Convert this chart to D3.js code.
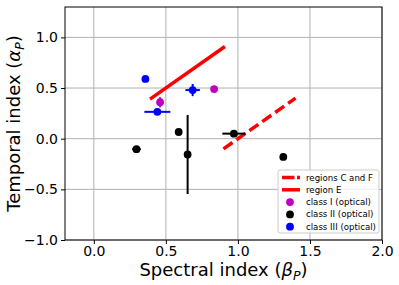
<!DOCTYPE html>
<html><head><meta charset="utf-8">
<script src="https://cdn.jsdelivr.net/npm/d3@7"></script>
<style>body{margin:0;background:#fff;}svg{display:block;font-family:"DejaVu Sans",sans-serif;}</style>
</head><body>
<script>
// Data
const xTicks = [0.0, 0.5, 1.0, 1.5, 2.0];
const yTicks = [-1.0, -0.5, 0.0, 0.5, 1.0];
const xDomain = [-0.2, 2.0];
const yDomain = [-1.0, 1.3];

// class I (optical): [beta, alpha, xerr, yerr]
const classI = [[0.46, 0.36, 0, 0.05], [0.835, 0.49, 0, 0]];
// class II (optical)
const classII = [[0.296, -0.103, 0.03, 0], [0.589, 0.066, 0, 0], [0.651, -0.156, 0, 0.39], [0.972, 0.05, 0.08, 0], [1.315, -0.18, 0, 0]];
// class III (optical)
const classIII = [[0.358, 0.59, 0, 0], [0.686, 0.48, 0.05, 0.06], [0.441, 0.265, 0.09, 0]];
// region lines
const regionE = [[0.4, 0.4], [0.9, 0.9]];
const regionsCF = [[0.9, -0.1], [1.4, 0.4]];

const W = 399, H = 285;
const m = {l: 65, r: 17, t: 7, b: 45};
const svg = d3.select("body").append("svg").attr("width", W).attr("height", H);
const x = d3.scaleLinear().domain(xDomain).range([m.l, W - m.r]);
const y = d3.scaleLinear().domain(yDomain).range([H - m.b, m.t]);

// grid
const g = svg.append("g");
g.selectAll(".gx").data(xTicks).join("line")
  .attr("x1", d => x(d)).attr("x2", d => x(d)).attr("y1", y(yDomain[0])).attr("y2", y(yDomain[1]))
  .attr("stroke", "#b0b0b0").attr("stroke-width", 1);
g.selectAll(".gy").data(yTicks).join("line")
  .attr("y1", d => y(d)).attr("y2", d => y(d)).attr("x1", x(xDomain[0])).attr("x2", x(xDomain[1]))
  .attr("stroke", "#b0b0b0").attr("stroke-width", 1);

// axes
const xAxis = d3.axisBottom(x).tickValues(xTicks).tickFormat(d3.format(".1f")).tickSizeOuter(0).tickSize(4).tickPadding(2.5);
const yAxis = d3.axisLeft(y).tickValues(yTicks).tickFormat(d => d3.format(".1f")(d).replace("-", "\u2212")).tickSizeOuter(0).tickSize(4).tickPadding(3);
const gx = svg.append("g").attr("transform", `translate(0,${H - m.b})`).call(xAxis);
const gy = svg.append("g").attr("transform", `translate(${m.l},0)`).call(yAxis);
[gx, gy].forEach(a => {
  a.select(".domain").remove();
  a.selectAll("text").attr("font-family", "DejaVu Sans").attr("font-size", 14).attr("fill", "#000");
  a.selectAll("line").attr("stroke", "#000");
});

// lines
const line = d3.line().x(d => x(d[0])).y(d => y(d[1]));
svg.append("path").attr("d", line(regionE)).attr("stroke", "#ff0000").attr("stroke-width", 3.5)
  .attr("fill", "none").attr("stroke-linecap", "square");
svg.append("path").attr("d", line(regionsCF)).attr("stroke", "#ff0000").attr("stroke-width", 3.5)
  .attr("fill", "none").attr("stroke-dasharray", "11,4.8");

// points
function drawSeries(data, color) {
  const gg = svg.append("g");
  data.forEach(d => {
    if (d[2] > 0) gg.append("line").attr("x1", x(d[0] - d[2])).attr("x2", x(d[0] + d[2]))
      .attr("y1", y(d[1])).attr("y2", y(d[1])).attr("stroke", color).attr("stroke-width", 2);
    if (d[3] > 0) gg.append("line").attr("x1", x(d[0])).attr("x2", x(d[0]))
      .attr("y1", y(d[1] - d[3])).attr("y2", y(d[1] + d[3])).attr("stroke", color).attr("stroke-width", 2);
  });
  gg.selectAll("circle").data(data).join("circle")
    .attr("cx", d => x(d[0])).attr("cy", d => y(d[1])).attr("r", 3.9).attr("fill", color);
}
drawSeries(classI, "#bf00bf");
drawSeries(classII, "#000000");
drawSeries(classIII, "#0000ff");

// frame
svg.append("rect").attr("x", x(xDomain[0])).attr("y", y(yDomain[1]))
  .attr("width", x(xDomain[1]) - x(xDomain[0])).attr("height", y(yDomain[0]) - y(yDomain[1]))
  .attr("fill", "none").attr("stroke", "#000").attr("stroke-width", 1);

// legend
const lg = svg.append("g").attr("transform", "translate(278,170)");
lg.append("rect").attr("x", 0).attr("y", 0).attr("width", 101).attr("height", 63).attr("rx", 2)
  .attr("fill", "#fff").attr("fill-opacity", 0.8).attr("stroke", "#cccccc").attr("stroke-width", 1);
const items = [
  {label: "regions C and F", type: "dash", color: "#ff0000"},
  {label: "region E", type: "line", color: "#ff0000"},
  {label: "class I (optical)", type: "dot", color: "#bf00bf"},
  {label: "class II (optical)", type: "dot", color: "#000000"},
  {label: "class III (optical)", type: "dot", color: "#0000ff"}
];
items.forEach((it, i) => {
  const yy = 7.5 + i * 12.3;
  if (it.type === "dot") lg.append("circle").attr("cx", 12).attr("cy", yy).attr("r", 3.9).attr("fill", it.color);
  else lg.append("line").attr("x1", 4).attr("x2", 22).attr("y1", yy).attr("y2", yy)
    .attr("stroke", it.color).attr("stroke-width", 3.5)
    .attr("stroke-dasharray", it.type === "dash" ? "12.5,2.5" : null);
  lg.append("text").attr("x", 28).attr("y", yy).attr("dy", "0.35em")
    .attr("font-size", 8.6).attr("fill", "#000").text(it.label);
});

// axis labels
const xl = svg.append("text").attr("x", (m.l + W - m.r) / 2).attr("y", 276)
  .attr("text-anchor", "middle").attr("font-size", 18).attr("fill", "#000");
xl.append("tspan").text("Spectral index (");
xl.append("tspan").attr("font-style", "italic").text("\u03B2");
xl.append("tspan").attr("font-style", "italic").attr("font-size", 12.5).attr("dy", 4).text("P");
xl.append("tspan").attr("dy", -4).text(")");

const yl = svg.append("text").attr("transform", `translate(20,${(m.t + H - m.b) / 2}) rotate(-90)`)
  .attr("text-anchor", "middle").attr("font-size", 18).attr("fill", "#000");
yl.append("tspan").text("Temporal index (");
yl.append("tspan").attr("font-style", "italic").text("\u03B1");
yl.append("tspan").attr("font-style", "italic").attr("font-size", 12.5).attr("dy", 4).text("P");
yl.append("tspan").attr("dy", -4).text(")");
</script>
</body></html>
